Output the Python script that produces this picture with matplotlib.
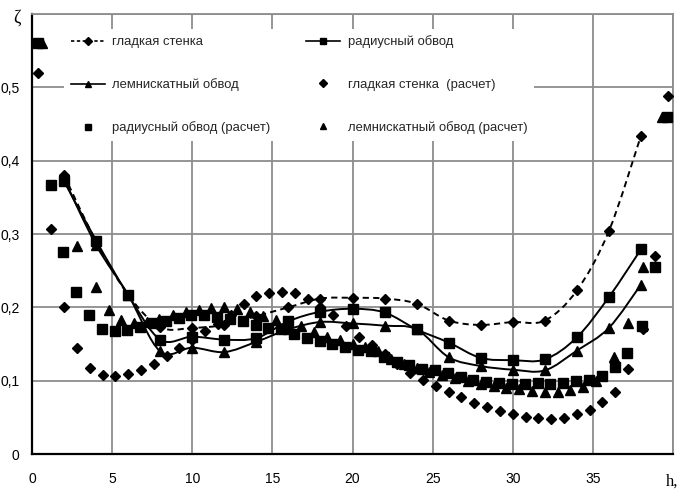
import numpy as np
import matplotlib
matplotlib.use("Agg")
import matplotlib.pyplot as plt
from matplotlib.path import Path
from matplotlib.patches import PathPatch
from matplotlib.lines import Line2D
from matplotlib.ticker import FixedLocator, FixedFormatter

# ---- measured (smoothed curves with markers) ----
h_exp = [2, 4, 6, 8, 10, 12, 14, 16, 18, 20, 22, 24, 26, 28, 30, 32, 34, 36, 38]
smooth_exp = [0.380, 0.290, 0.217, 0.173, 0.172, 0.176, 0.188, 0.200, 0.212, 0.213,
              0.212, 0.205, 0.182, 0.176, 0.180, 0.182, 0.223, 0.304, 0.434]
radius_exp = [0.372, 0.291, 0.217, 0.156, 0.160, 0.156, 0.158, 0.181, 0.194, 0.198,
              0.193, 0.170, 0.152, 0.131, 0.128, 0.129, 0.159, 0.214, 0.279]
lemn_exp = [0.375, 0.285, 0.217, 0.140, 0.145, 0.139, 0.153, 0.170, 0.180, 0.178,
            0.175, 0.170, 0.132, 0.120, 0.115, 0.114, 0.141, 0.172, 0.231]

# ---- calculated (markers only) ----
h_smooth_calc = [0.4, 1.2, 2.0, 2.8, 3.6, 4.4, 5.2, 6.0, 6.8, 7.6, 8.4, 9.2, 10.0, 10.8,
                 11.6, 12.4, 13.2, 14.0, 14.8, 15.6, 16.4, 17.2, 18.0, 18.8, 19.6, 20.4,
                 21.2, 22.0, 22.8, 23.6, 24.4, 25.2, 26.0, 26.8, 27.6, 28.4, 29.2, 30.0,
                 30.8, 31.6, 32.4, 33.2, 34.0, 34.8, 35.6, 36.4, 37.2, 38.1, 38.9, 39.7]
smooth_calc = [0.520, 0.307, 0.201, 0.144, 0.117, 0.108, 0.107, 0.109, 0.115, 0.123,
               0.133, 0.144, 0.155, 0.168, 0.177, 0.190, 0.205, 0.215, 0.220, 0.221,
               0.219, 0.212, 0.200, 0.189, 0.174, 0.160, 0.148, 0.136, 0.123, 0.111,
               0.101, 0.093, 0.084, 0.078, 0.070, 0.064, 0.059, 0.055, 0.051, 0.049,
               0.048, 0.049, 0.055, 0.060, 0.071, 0.085, 0.116, 0.170, 0.270, 0.488]

h_radius_calc = [0.35, 1.17, 1.95, 2.75, 3.55, 4.35, 5.15, 5.95, 6.75, 7.55, 8.35, 9.15,
                 9.95, 10.75, 11.55, 12.35, 13.15, 13.95, 14.75, 15.55, 16.35, 17.15,
                 17.95, 18.75, 19.55, 20.35, 21.15, 21.95, 22.75, 23.55, 24.35, 25.15,
                 25.95, 26.75, 27.55, 28.35, 29.15, 29.95, 30.75, 31.55, 32.35, 33.15,
                 33.95, 34.75, 35.55, 36.35, 37.15, 38.05, 38.85, 39.6]
radius_calc = [0.560, 0.367, 0.276, 0.221, 0.189, 0.171, 0.168, 0.169, 0.173, 0.178,
               0.182, 0.186, 0.189, 0.189, 0.187, 0.184, 0.181, 0.176, 0.172, 0.170,
               0.164, 0.158, 0.154, 0.150, 0.146, 0.142, 0.140, 0.132, 0.126, 0.122,
               0.116, 0.114, 0.110, 0.105, 0.101, 0.098, 0.097, 0.096, 0.096, 0.097,
               0.096, 0.097, 0.099, 0.101, 0.107, 0.119, 0.138, 0.175, 0.255, 0.460]

h_lemn_calc = [0.6, 2.8, 4.0, 4.8, 5.55, 6.35, 7.15, 7.95, 8.8, 9.6, 10.4, 11.2, 12.0,
               12.8, 13.6, 14.4, 15.2, 16.0, 16.8, 17.6, 18.4, 19.2, 20.0, 20.8, 21.6,
               22.4, 23.2, 24.0, 24.8, 25.6, 26.4, 27.2, 28.0, 28.8, 29.6, 30.4, 31.2,
               32.0, 32.8, 33.6, 34.4, 35.2, 36.3, 37.2, 38.1, 39.3]
lemn_calc = [0.560, 0.283, 0.228, 0.197, 0.183, 0.178, 0.180, 0.184, 0.189, 0.193,
             0.196, 0.199, 0.200, 0.198, 0.193, 0.188, 0.183, 0.180, 0.174, 0.167,
             0.160, 0.155, 0.150, 0.146, 0.140, 0.130, 0.123, 0.117, 0.112, 0.108,
             0.104, 0.100, 0.096, 0.093, 0.090, 0.088, 0.086, 0.085, 0.085, 0.087,
             0.092, 0.100, 0.132, 0.178, 0.255, 0.460]

labels = ["гладкая стенка", "радиусный обвод", "лемнискатный обвод",
          "гладкая стенка  (расчет)", "радиусный обвод (расчет)",
          "лемнискатный обвод (расчет)"]

x_ticks = [0, 5, 10, 15, 20, 25, 30, 35, 40]
x_ticklabels = ["0", "5", "10", "15", "20", "25", "30", "35", ""]
y_ticks = [0, 0.1, 0.2, 0.3, 0.4, 0.5, 0.6]
y_ticklabels = ["0", "0,1", "0,2", "0,3", "0,4", "0,5", ""]

plt.rcParams["font.family"] = ["Liberation Sans", "DejaVu Sans"]

fig = plt.figure(figsize=(6.85, 4.94), dpi=100)
ax = fig.add_axes([32 / 685, 1 - 454 / 494, 641 / 685, 440 / 494])
ax.set_xlim(0, 40)
ax.set_ylim(0, 0.6)


def smooth_path(xs, ys):
    """Catmull-Rom style cubic Bezier path through the points."""
    p = np.column_stack([xs, ys]).astype(float)
    n = len(p)
    verts = [p[0]]
    codes = [Path.MOVETO]
    for i in range(n - 1):
        p0 = p[i - 1] if i > 0 else p[i]
        p1 = p[i]
        p2 = p[i + 1]
        p3 = p[i + 2] if i + 2 < n else p[i + 1]
        c1 = p1 + (p2 - p0) / 6.0
        c2 = p2 - (p3 - p1) / 6.0
        verts += [c1, c2, p2]
        codes += [Path.CURVE4] * 3
    return Path(verts, codes)


ax.add_patch(PathPatch(smooth_path(h_exp, smooth_exp), fill=False, edgecolor="black",
                       lw=1.4, linestyle=(0, (3.2, 2.2)), zorder=3))
ax.add_patch(PathPatch(smooth_path(h_exp, radius_exp), fill=False, edgecolor="black",
                       lw=1.4, zorder=3))
ax.add_patch(PathPatch(smooth_path(h_exp, lemn_exp), fill=False, edgecolor="black",
                       lw=1.4, zorder=3))

ax.plot(h_exp, smooth_exp, linestyle="none", marker="D", ms=5.5, color="black", zorder=4)
ax.plot(h_exp, radius_exp, linestyle="none", marker="s", ms=6.5, color="black", zorder=4)
ax.plot(h_exp, lemn_exp, linestyle="none", marker="^", ms=7, color="black", zorder=4)

ax.plot(h_smooth_calc, smooth_calc, linestyle="none", marker="D", ms=5.5, color="black", zorder=4)
ax.plot(h_radius_calc, radius_calc, linestyle="none", marker="s", ms=6.5, color="black", zorder=4)
ax.plot(h_lemn_calc, lemn_calc, linestyle="none", marker="^", ms=7, color="black", zorder=4)

# grid and frame
ax.xaxis.set_major_locator(FixedLocator(x_ticks))
ax.xaxis.set_major_formatter(FixedFormatter(x_ticklabels))
ax.yaxis.set_major_locator(FixedLocator(y_ticks))
ax.yaxis.set_major_formatter(FixedFormatter(y_ticklabels))
ax.grid(True, color="#8c8c8c", lw=1.3, zorder=0)
ax.set_axisbelow(True)
ax.tick_params(length=0, labelsize=10, colors="black")
ax.tick_params(axis="x", pad=13)
ax.tick_params(axis="y", pad=9)
for s in ("top", "right"):
    ax.spines[s].set_color("#8c8c8c")
    ax.spines[s].set_linewidth(1.3)
for s in ("left", "bottom"):
    ax.spines[s].set_color("black")
    ax.spines[s].set_linewidth(1.6)

# legend (column-major order for two columns)
h_smooth = Line2D([], [], color="black", lw=1.2, linestyle=(0, (2, 1.5)), marker="D", ms=4)
h_radius = Line2D([], [], color="black", lw=1.2, marker="s", ms=4.5)
h_lemn = Line2D([], [], color="black", lw=1.2, marker="^", ms=5)
h_smooth_c = Line2D([], [], linestyle="none", color="black", marker="D", ms=4)
h_radius_c = Line2D([], [], linestyle="none", color="black", marker="s", ms=5)
h_lemn_c = Line2D([], [], linestyle="none", color="black", marker="^", ms=5)

leg = ax.legend([h_smooth, h_lemn, h_radius_c, h_radius, h_smooth_c, h_lemn_c],
                [labels[0], labels[2], labels[4], labels[1], labels[3], labels[5]],
                ncol=2, loc="upper left", bbox_to_anchor=(0.05, 0.966),
                fontsize=9.4, frameon=True, facecolor="white", edgecolor="none",
                framealpha=1, fancybox=False, borderpad=0.5, labelspacing=2.3,
                handlelength=2.6, handletextpad=0.6, columnspacing=2.7,
                borderaxespad=0)
leg.set_zorder(5)
for t in leg.get_texts():
    t.set_color("#262626")

fig.text(17 / 685, 1 - 18 / 494, "ζ", family=["Liberation Serif", "DejaVu Serif"],
         fontsize=13, ha="center", va="center")
fig.text(672 / 685, 1 - 482 / 494, "h,", family=["Liberation Serif", "DejaVu Serif"],
         fontsize=12, ha="center", va="center")

fig.savefig("out.png", dpi=100)
